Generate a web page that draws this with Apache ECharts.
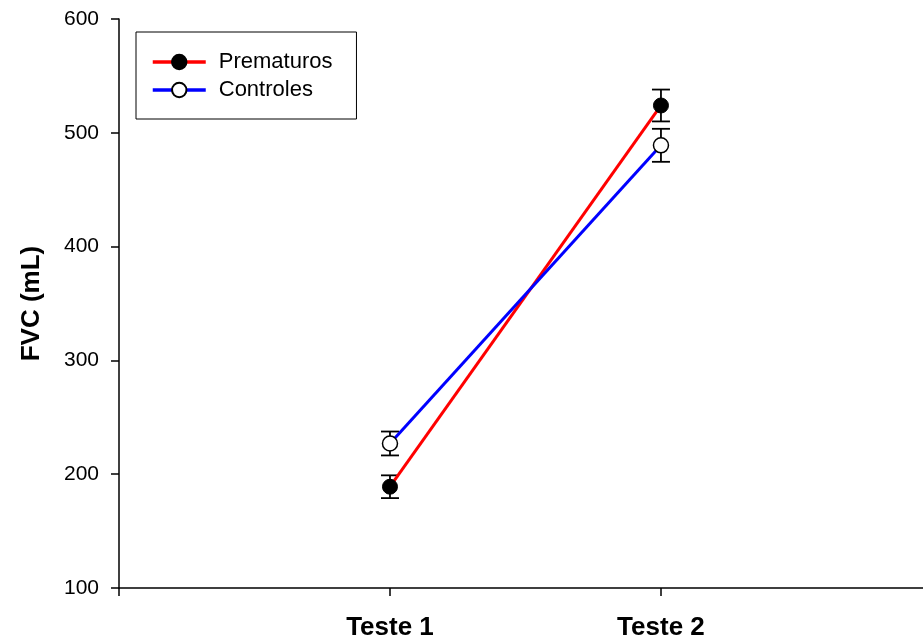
<!DOCTYPE html>
<html>
<head>
<meta charset="utf-8">
<script src="https://cdn.jsdelivr.net/npm/echarts@6/dist/echarts.min.js"></script>
<style>
  html, body { margin: 0; padding: 0; background: #fff; }
  #chart { width: 923px; height: 644px; }
</style>
</head>
<body>
<div id="chart"></div>
<script>
// ========== 数据 ==========
const categories = ['Teste 1', 'Teste 2'];
const xPos = [1, 2];
const prematurosMean = [189, 524];
const prematurosErr = [10, 14];
const controlesMean = [227, 489];
const controlesErr = [10.5, 14.5];
const yTicks = [100, 200, 300, 400, 500, 600];

const FONT = '"Liberation Sans", Arial, sans-serif';

function pairs(means) {
  return means.map((v, i) => [xPos[i], v]);
}

function errData(means, errs) {
  return means.map((v, i) => [xPos[i], v - errs[i], v + errs[i]]);
}

// 误差线: 竖线 + 上下横帽
function renderErr(params, api) {
  const lo = api.coord([api.value(0), api.value(1)]);
  const hi = api.coord([api.value(0), api.value(2)]);
  const hw = 9;
  const style = { stroke: '#000', lineWidth: 1.8 };
  return {
    type: 'group',
    children: [
      { type: 'line', shape: { x1: lo[0], y1: lo[1], x2: hi[0], y2: hi[1] }, style },
      { type: 'line', shape: { x1: lo[0] - hw, y1: lo[1], x2: lo[0] + hw, y2: lo[1] }, style },
      { type: 'line', shape: { x1: hi[0] - hw, y1: hi[1], x2: hi[0] + hw, y2: hi[1] }, style }
    ]
  };
}

const chart = echarts.init(document.getElementById('chart'), null, { renderer: 'canvas' });
chart.setOption({
  backgroundColor: '#fff',
  animation: false,
  grid: { left: 119, right: 0, top: 19, bottom: 56, containLabel: false },
  legend: {
    data: ['Prematuros', 'Controles'],
    orient: 'vertical',
    left: 136,
    top: 32,
    padding: [19, 24, 18, 15],
    itemGap: 6,
    itemWidth: 53,
    itemHeight: 18,
    borderColor: '#000',
    borderWidth: 1,
    lineStyle: { width: 3.5 },
    textStyle: { fontFamily: FONT, fontSize: 22, lineHeight: 22, color: '#000', padding: [0, 0, 0, 8] }
  },
  xAxis: {
    type: 'value',
    min: 0,
    max: 2.967,
    interval: 1,
    splitLine: { show: false },
    axisLine: { lineStyle: { color: '#000', width: 1.5 } },
    axisTick: { show: true, length: 8, lineStyle: { color: '#000', width: 1.5 } },
    axisLabel: {
      margin: 27,
      fontFamily: FONT,
      fontSize: 26,
      fontWeight: 'bold',
      color: '#000',
      showMaxLabel: false,
      formatter: v => {
        const i = xPos.indexOf(v);
        return i >= 0 ? categories[i] : '';
      }
    }
  },
  yAxis: {
    type: 'value',
    min: yTicks[0],
    max: yTicks[yTicks.length - 1],
    interval: 100,
    name: 'FVC (mL)',
    nameLocation: 'middle',
    nameGap: 74,
    nameTextStyle: { fontFamily: FONT, fontSize: 26, fontWeight: 'bold', color: '#000' },
    splitLine: { show: false },
    axisLine: { show: true, lineStyle: { color: '#000', width: 1.5 } },
    axisTick: { show: true, length: 8, lineStyle: { color: '#000', width: 1.5 } },
    axisLabel: { margin: 20, fontFamily: FONT, fontSize: 21, color: '#000' }
  },
  series: [
    {
      type: 'custom',
      renderItem: renderErr,
      data: errData(prematurosMean, prematurosErr),
      encode: { x: 0, y: [1, 2] },
      z: 1
    },
    {
      type: 'custom',
      renderItem: renderErr,
      data: errData(controlesMean, controlesErr),
      encode: { x: 0, y: [1, 2] },
      z: 1
    },
    {
      name: 'Prematuros',
      type: 'line',
      data: pairs(prematurosMean),
      symbol: 'circle',
      symbolSize: 15,
      lineStyle: { color: '#ff0000', width: 3 },
      itemStyle: { color: '#000', borderColor: '#000', borderWidth: 1 },
      z: 3
    },
    {
      name: 'Controles',
      type: 'line',
      data: pairs(controlesMean),
      symbol: 'circle',
      symbolSize: 15,
      lineStyle: { color: '#0000ff', width: 3 },
      itemStyle: { color: '#fff', borderColor: '#000', borderWidth: 1.5 },
      z: 4
    }
  ]
});
</script>
</body>
</html>
